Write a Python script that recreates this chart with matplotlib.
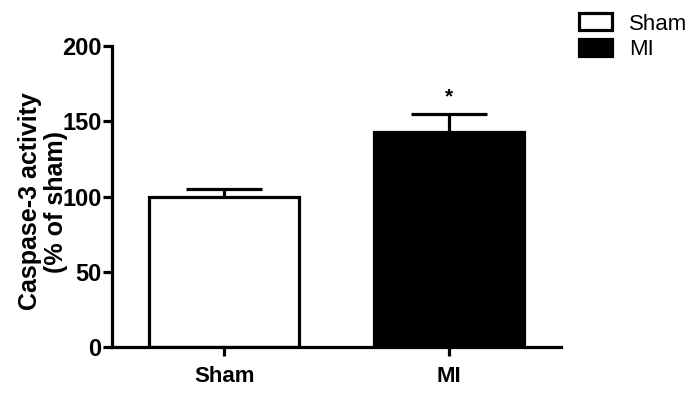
import matplotlib
matplotlib.use("Agg")
import matplotlib.pyplot as plt
from matplotlib.patches import Patch

categories = ["Sham", "MI"]
means = [100, 143]
errors = [5, 12]
colors = ["white", "black"]
yticks = [0, 50, 100, 150, 200]

plt.rcParams['font.family'] = ['Liberation Sans', 'DejaVu Sans']

fig = plt.figure(figsize=(7, 3.95), dpi=100)
ax = fig.add_axes([112/700, 48/395, (561-112)/700, (347-46)/395])

x = list(range(len(categories)))
lw = 2.3
ax.errorbar(x, means, yerr=errors, fmt='none', ecolor='black', elinewidth=lw,
            capsize=27.5, capthick=lw, zorder=1)
ax.bar(x, means, width=0.67, color=colors, edgecolor='black', linewidth=lw, zorder=2)

ax.text(1, means[1] + errors[1] + 5, "*", ha='center', va='bottom', fontsize=15,
        fontweight='bold')

ax.set_xlim(-0.5, 1.5)
ax.set_ylim(0, 200)
ax.set_yticks(yticks)
ax.set_xticks(x)
ax.set_xticklabels(categories, fontsize=16, fontweight='bold')
for lab in ax.get_yticklabels():
    lab.set_fontsize(17)
    lab.set_fontweight('bold')
ax.tick_params(axis='both', direction='out', length=6.5, width=lw, color='black')
ax.tick_params(axis='x', pad=7)
ax.tick_params(axis='y', pad=1)
for s in ['top', 'right']:
    ax.spines[s].set_visible(False)
for s in ['left', 'bottom']:
    ax.spines[s].set_linewidth(lw)

ax.set_ylabel("Caspase-3 activity\n(% of sham)", fontsize=18, fontweight='bold',
              linespacing=1.1)
ax.yaxis.set_label_coords(-0.098, 0.483)

handles = [Patch(facecolor=c, edgecolor='black', linewidth=lw) for c in colors]
fig.legend(handles, categories, loc='upper left', bbox_to_anchor=(575/700, 1 - 9/395),
           frameon=False, fontsize=16, handlelength=1.45, handleheight=0.8,
           handletextpad=0.8, labelspacing=0.2, borderaxespad=0, borderpad=0.2)

fig.savefig("out.png", dpi=100)
